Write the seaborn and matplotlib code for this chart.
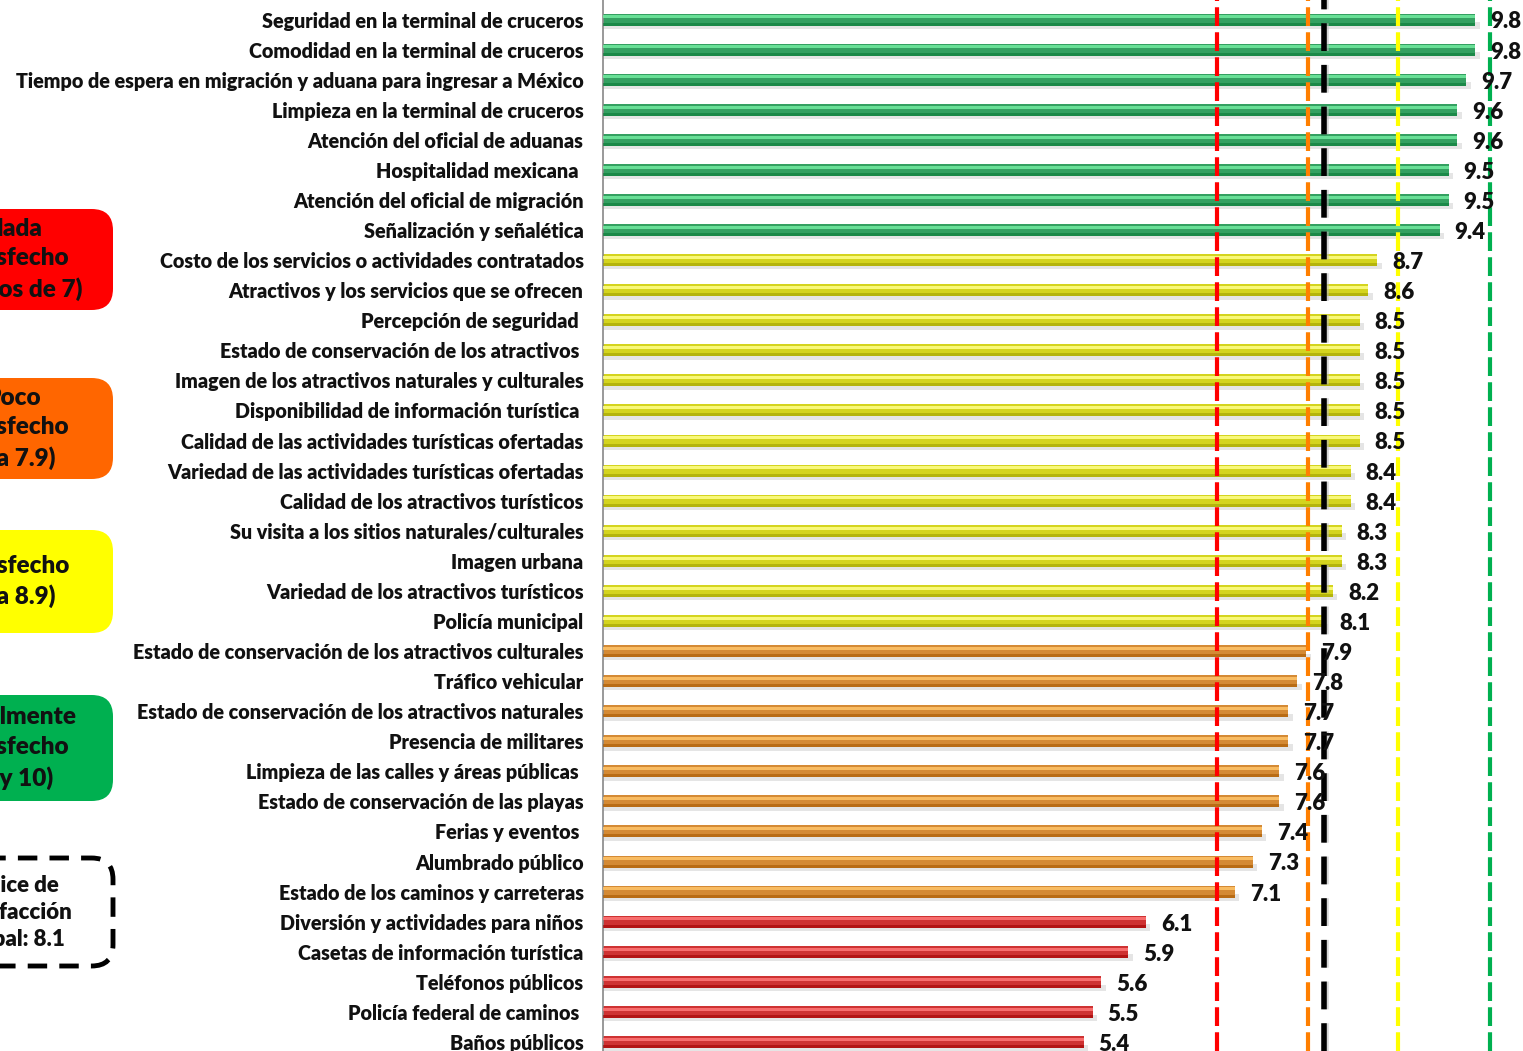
import matplotlib
matplotlib.use("Agg")
import matplotlib.pyplot as plt
from matplotlib.patches import FancyBboxPatch
import seaborn as sns
import pandas as pd
import numpy as np

categories = [
    "Seguridad en la terminal de cruceros",
    "Comodidad en la terminal de cruceros",
    "Tiempo de espera en migración y aduana para ingresar a México",
    "Limpieza en la terminal de cruceros",
    "Atención del oficial de aduanas",
    "Hospitalidad mexicana ",
    "Atención del oficial de migración",
    "Señalización y señalética",
    "Costo de los servicios o actividades contratados",
    "Atractivos y los servicios que se ofrecen",
    "Percepción de seguridad ",
    "Estado de conservación de los atractivos ",
    "Imagen de los atractivos naturales y culturales",
    "Disponibilidad de información turística ",
    "Calidad de las actividades turísticas ofertadas",
    "Variedad de las actividades turísticas ofertadas",
    "Calidad de los atractivos turísticos",
    "Su visita a los sitios naturales/culturales",
    "Imagen urbana",
    "Variedad de los atractivos turísticos",
    "Policía municipal",
    "Estado de conservación de los atractivos culturales",
    "Tráfico vehicular",
    "Estado de conservación de los atractivos naturales",
    "Presencia de militares",
    "Limpieza de las calles y áreas públicas ",
    "Estado de conservación de las playas",
    "Ferias y eventos ",
    "Alumbrado público",
    "Estado de los caminos y carreteras",
    "Diversión y actividades para niños",
    "Casetas de información turística",
    "Teléfonos públicos",
    "Policía federal de caminos ",
    "Baños públicos",
]
values = [9.8, 9.8, 9.7, 9.6, 9.6, 9.5, 9.5, 9.4, 8.7, 8.6, 8.5, 8.5, 8.5, 8.5, 8.5,
          8.4, 8.4, 8.3, 8.3, 8.2, 8.1, 7.9, 7.8, 7.7, 7.7, 7.6, 7.6, 7.4, 7.3, 7.1,
          6.1, 5.9, 5.6, 5.5, 5.4]
value_labels = ["9.8", "9.8", "9.7", "9.6", "9.6", "9.5", "9.5", "9.4", "8.7", "8.6",
                "8.5", "8.5", "8.5", "8.5", "8.5", "8.4", "8.4", "8.3", "8.3", "8.2",
                "8.1", "7.9", "7.8", "7.7", "7.7", "7.6", "7.6", "7.4", "7.3", "7.1",
                "6.1", "5.9", "5.6", "5.5", "5.4"]

# reference lines (thresholds and global index)
ref_values = [6.9, 7.92, 8.93, 9.97]
ref_colors = ["#ff0000", "#ff7f00", "#ffff00", "#00b050"]
global_index = 8.1

legend_texts = ["Nada\nsatisfecho\n(menos de 7)", "Poco\nsatisfecho\n(7 a 7.9)",
                "Satisfecho\n(8 a 8.9)", "Totalmente\nsatisfecho\n(9 y 10)"]
legend_colors = ["#ff0000", "#ff6600", "#ffff00", "#00b050"]
global_text = "Índice de\nsatisfacción\nglobal: 8.1"


def level(v):
    if v >= 9:
        return 3
    if v >= 8:
        return 2
    if v >= 7:
        return 1
    return 0

base_cols = ["#e81818", "#ef8c1a", "#f2f200", "#22b25e"]
light_cols = ["#ff7878", "#ffc46a", "#ffff8a", "#72eba0"]
dark_cols = ["#a00000", "#a85800", "#a0a000", "#0b7a38"]

df = pd.DataFrame({"cat": categories, "val": values})
df["lvl"] = [level(v) for v in values]
pal = {c: base_cols[l] for c, l in zip(df["cat"], df["lvl"])}

sns.set_theme(style="white")
plt.rcParams["font.family"] = ["Lato", "DejaVu Sans"]
WEIGHT = "heavy"

W, H = 1523, 1051
fig = plt.figure(figsize=(W / 100, H / 100), dpi=100)
ax = fig.add_axes([603 / W, 0, (W - 603) / W, 1])

ypos = np.arange(len(values))
# soft shadow below each bar
ax.barh(ypos + 0.2, df["val"] + 0.05, height=0.22, color="#000000", alpha=0.10,
        zorder=1, linewidth=0)

sns.barplot(data=df, x="val", y="cat", hue="cat", palette=pal, legend=False,
            orient="h", width=0.4, ax=ax, zorder=2, edgecolor="none")
# 3-D look: darker lower edge, bright upper band
ax.barh(ypos + 0.15, df["val"], height=0.1,
        color=[dark_cols[l] for l in df["lvl"]], alpha=0.6, zorder=3, linewidth=0)
ax.barh(ypos - 0.09, df["val"], height=0.1,
        color=[light_cols[l] for l in df["lvl"]], alpha=0.85, zorder=3, linewidth=0)

ax.set_xlim(0, (W - 603) / 89.0)
ax.set_ylim(len(values) - 0.7, -0.65)

for v, c in zip(ref_values, ref_colors):
    ax.axvline(v, color=c, lw=3, ls=(0, (4.5, 1.5)), zorder=4)
ax.axvline(global_index + 0.02, color="#bbbbbb", lw=4, ls=(0, (5, 2.5)), zorder=4,
           alpha=0.6)
ax.axvline(global_index, color="black", lw=4, ls=(0, (5, 2.5)), zorder=5)

for i, (v, lab) in enumerate(zip(values, value_labels)):
    ax.text(v + 0.17, i + 0.08, lab, ha="left", va="center", fontsize=16,
            fontweight=WEIGHT, color="#111111", zorder=6)

ax.set_xlabel("")
ax.set_ylabel("")
ax.set_xticks([])
ax.tick_params(axis="y", length=0, pad=14)
for t in ax.get_yticklabels():
    t.set_fontsize(14.2)
    t.set_fontweight(WEIGHT)
    t.set_color("#111111")
for s in ["top", "right", "bottom"]:
    ax.spines[s].set_visible(False)
ax.spines["left"].set_color("#888888")
ax.spines["left"].set_linewidth(1.2)

# legend boxes (partly cut off at the left edge)
boxes = [(209, 310), (378, 479), (530, 633), (695, 801)]
for (y0, y1), txt, col in zip(boxes, legend_texts, legend_colors):
    p = FancyBboxPatch((-120 / W, 1 - y1 / H), (113 + 120) / W, (y1 - y0) / H,
                       boxstyle="round,pad=0,rounding_size=0.014",
                       transform=fig.transFigure, facecolor=col, edgecolor="none",
                       mutation_aspect=W / H)
    fig.patches.append(p)
    fig.text(13 / W, 1 - (y0 + y1) / 2 / H, txt, ha="center", va="center",
             fontsize=17.5, fontweight=WEIGHT, color="#111111", linespacing=1.42)

y0, y1 = 858, 966
p = FancyBboxPatch((-120 / W, 1 - y1 / H), (113 + 120) / W, (y1 - y0) / H,
                   boxstyle="round,pad=0,rounding_size=0.014",
                   transform=fig.transFigure, facecolor="white", edgecolor="black",
                   linewidth=3.5, linestyle=(0, (4, 2.5)), mutation_aspect=W / H)
fig.patches.append(p)
fig.text(13 / W, 1 - (y0 + y1) / 2 / H, global_text, ha="center", va="center",
         fontsize=16, fontweight=WEIGHT, color="#111111", linespacing=1.35)

fig.savefig("out.png", dpi=100)
